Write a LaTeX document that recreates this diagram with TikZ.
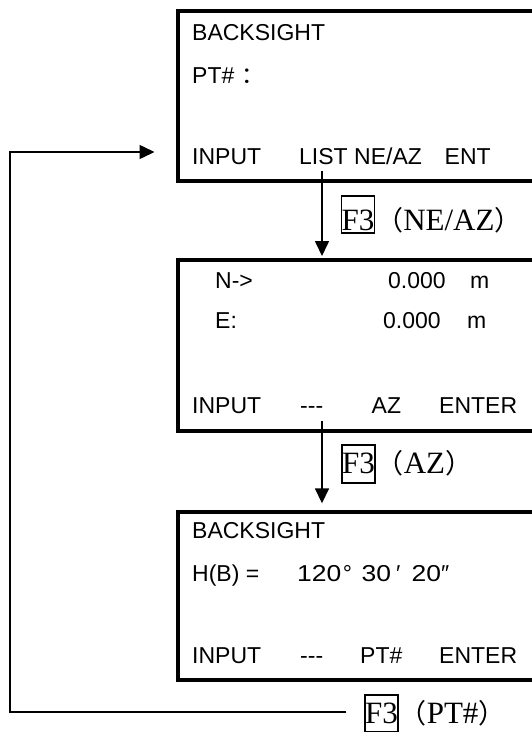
\documentclass[tikz,border=0pt]{standalone}
\usepackage{fontspec}
\setmainfont{Liberation Sans}
\newfontfamily\serfont{Liberation Serif}
\newfontfamily\cjkfont{Noto Sans CJK SC}
\usetikzlibrary{arrows.meta}
\newcommand{\keytxt}[1]{{\fontsize{31}{34}\selectfont\serfont #1}}
\newcommand{\lp}{{\fontsize{27}{30}\selectfont\cjkfont （}}
\newcommand{\rp}{{\fontsize{27}{30}\selectfont\cjkfont ）}}
\newcommand{\wdig}[1]{\scalebox{1.15}[1]{#1}}
\begin{document}
\begin{tikzpicture}[x=1pt,y=-1pt,
  scr/.style={draw, line width=4pt, anchor=north west, inner sep=0pt, minimum width=364.5pt},
  txt/.style={anchor=base west, inner sep=0pt, font=\fontsize{23}{27}\selectfont},
  conn/.style={line width=1.6pt, -{Triangle[length=15pt,width=14pt]}},
  keybox/.style={draw, line width=1.4pt, inner sep=0pt, anchor=base, minimum width=32pt},
  lbl/.style={anchor=base west, inner sep=0pt}]
\useasboundingbox (0,0) rectangle (532,732);
\clip (0,0) rectangle (532,732);

% screens
\node[scr, minimum height=170pt] (s1) at (175.5,9) {};
\node[scr, minimum height=171pt] (s2) at (175.5,258) {};
\node[scr, minimum height=168.5pt] (s3) at (175.5,509.7) {};

% screen 1 texts
\node[txt] (t11) at (192,40) {BACKSIGHT};
\node[txt] (t12) at (192,83) {PT\#\hspace{7pt}{\cjkfont ：}};
\node[txt] (t13a) at (192,164.5) {INPUT};
\node[txt] (t13b) at (299,164.5) {LIST};
\node[txt] (t13c) at (354,164.5) {NE/AZ};
\node[txt] (t13d) at (444.5,164.5) {ENT};

% screen 2 texts
\node[txt] (t21a) at (215,288.5) {N->};
\node[txt] (t21b) at (388,288.5) {0.000};
\node[txt] (t21c) at (470,288.5) {m};
\node[txt] (t22a) at (215,328.5) {E:};
\node[txt] (t22b) at (383,328.5) {0.000};
\node[txt] (t22c) at (467,328.5) {m};
\node[txt] (t23a) at (192,413.5) {INPUT};
\node[txt] (t23b) at (300,413.5) {-{}-{}-};
\node[txt] (t23c) at (371.5,413.5) {AZ};
\node[txt] (t23d) at (439,413.5) {ENTER};

% screen 3 texts
\node[txt] (t31) at (192,538.3) {BACKSIGHT};
\node[txt] (t32a) at (192,581.7) {H(B) =};
\node[txt] (t32b) at (297,581.7) {\wdig{120}};
\node[txt] (t32c) at (342.6,581.7) {°};
\node[txt] (t32d) at (361.5,581.7) {\wdig{30}};
\node[txt] (t32e) at (396,581.7) {′};
\node[txt] (t32f) at (411.5,581.7) {\wdig{20}};
\node[txt] (t32g) at (441,581.7) {″};
\node[txt] (t33a) at (192,663.5) {INPUT};
\node[txt] (t33b) at (300,663.5) {-{}-{}-};
\node[txt] (t33c) at (360,663.5) {PT\#};
\node[txt] (t33d) at (439,663.5) {ENTER};

% key labels
\node[keybox, text height=34pt, text depth=3pt] (k1) at (358,230) {\keytxt{F3}};
\node[lbl] (p1) at ([xshift=1pt]k1.base east) {\keytxt{\lp NE/AZ\rp}};
\node[keybox, text height=28.3pt, text depth=9.7pt] (k2) at (358.5,473.3) {\keytxt{F3}};
\node[lbl] (p2) at ([xshift=1pt]k2.base east) {\keytxt{\lp AZ\rp}};
\node[keybox, text height=28.3pt, text depth=8.4pt] (k3) at (381.5,723.3) {\keytxt{F3}};
\node[lbl] (p3) at ([xshift=1pt]k3.base east) {\keytxt{\lp PT\#\rp}};

% connectors
\coordinate (c1) at (322,171);
\coordinate (c2) at (322,420.7);
\draw[conn, shorten >=2pt] (c1) -- (c1 |- s2.north);
\draw[conn, shorten >=6.4pt] (c2) -- (c2 |- s3.north);
\coordinate (lb) at (10,711.7);
\coordinate (lt) at (10,152);
\draw[conn, shorten <=18pt, shorten >=21pt] (k3.west |- lb) -- (lb) -- (lt) -- (s1.west |- lt);
\end{tikzpicture}
\end{document}
